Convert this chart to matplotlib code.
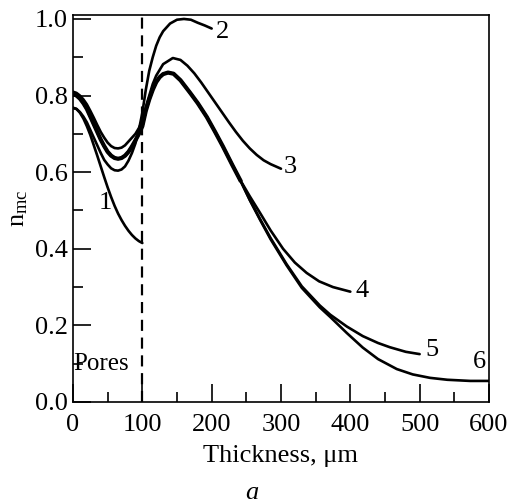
import matplotlib
matplotlib.use("Agg")
import matplotlib.pyplot as plt
from matplotlib.ticker import MultipleLocator

plt.rcParams['font.family'] = ['Liberation Serif', 'DejaVu Serif']
plt.rcParams['mathtext.default'] = 'regular'

# values (thickness in um, n_mc)
x1 = [0, 5, 10, 15, 20, 25, 30, 35, 40, 45, 50, 55, 60, 65, 70, 75, 80, 85, 90, 95, 100]
y1 = [0.768, 0.765, 0.755, 0.74, 0.72, 0.697, 0.67, 0.643, 0.615, 0.587, 0.56, 0.535, 0.512, 0.492,
      0.475, 0.46, 0.447, 0.436, 0.427, 0.42, 0.415]

x2 = [0, 5, 10, 15, 20, 25, 30, 35, 40, 45, 50, 55, 60, 65, 70, 75, 80, 85, 90, 95, 100,
      105, 110, 115, 120, 125, 130, 140, 150, 160, 170, 180, 190, 200]
y2 = [0.768, 0.765, 0.757, 0.745, 0.73, 0.71, 0.69, 0.67, 0.65, 0.632, 0.62, 0.61, 0.605, 0.604,
      0.607, 0.615, 0.63, 0.65, 0.675, 0.71, 0.755, 0.815, 0.865, 0.90, 0.93, 0.952, 0.968, 0.988,
      0.998, 1.0, 0.998, 0.99, 0.983, 0.975]

x3 = [0, 5, 10, 15, 20, 25, 30, 35, 40, 45, 50, 55, 60, 65, 70, 75, 80, 85, 90, 95, 100,
      105, 110, 115, 120, 130, 144, 155, 165, 175, 185, 195, 205, 215, 225, 235, 245, 255, 265,
      275, 285, 300]
y3 = [0.81, 0.807, 0.80, 0.79, 0.777, 0.76, 0.742, 0.723, 0.705, 0.69, 0.677, 0.668, 0.663, 0.662,
      0.664, 0.67, 0.68, 0.69, 0.70, 0.715, 0.735, 0.77, 0.80, 0.83, 0.852, 0.882, 0.898, 0.893,
      0.878, 0.858, 0.834, 0.808, 0.782, 0.756, 0.73, 0.705, 0.682, 0.662, 0.645, 0.631, 0.621,
      0.609]

# shared part of curves 4, 5 and 6
xb = [0, 5, 10, 15, 20, 25, 30, 35, 40, 45, 50, 55, 60, 65, 70, 75, 80, 85, 90, 95, 100,
      105, 110, 115, 120, 125, 130, 137, 145, 155, 169, 180, 193, 205, 216, 230, 241]
yb = [0.805, 0.80, 0.792, 0.78, 0.765, 0.745, 0.725, 0.705, 0.685, 0.668, 0.653, 0.643, 0.637,
      0.635, 0.637, 0.643, 0.653, 0.667, 0.683, 0.70, 0.72, 0.76, 0.79, 0.815, 0.835, 0.848, 0.856,
      0.86, 0.857, 0.84, 0.807, 0.78, 0.744, 0.705, 0.668, 0.618, 0.58]

x4 = xb + [255, 270, 285, 303, 320, 337, 355, 375, 400]
y4 = yb + [0.537, 0.493, 0.448, 0.4, 0.364, 0.337, 0.315, 0.30, 0.288]

x5 = xb + [255, 270, 285, 308, 330, 356, 371, 395, 418, 440, 457, 480, 500]
y5 = yb + [0.528, 0.477, 0.428, 0.36, 0.302, 0.252, 0.228, 0.197, 0.172, 0.154, 0.143, 0.131, 0.125]

x6 = xb + [255, 270, 285, 308, 330, 356, 371, 395, 418, 440, 467, 490, 515, 540, 573, 600]
y6 = yb + [0.527, 0.475, 0.425, 0.357, 0.298, 0.247, 0.222, 0.18, 0.142, 0.112, 0.086, 0.072,
           0.063, 0.058, 0.055, 0.055]

curves = [(x1, y1), (x2, y2), (x3, y3), (x4, y4), (x5, y5), (x6, y6)]
labels = ['1', '2', '3', '4', '5', '6']
label_pos = [(46, 0.52), (215, 0.966), (314, 0.613), (417, 0.29), (518, 0.136), (586, 0.104)]

fig = plt.figure(figsize=(5.12, 5.04), dpi=100)
ax = fig.add_axes([0.1426, 0.2024, 0.955 - 0.1426, 0.970 - 0.2024])

for (xs, ys) in curves:
    ax.plot(xs, ys, color='black', lw=1.9, solid_capstyle='round', solid_joinstyle='round')
# the bundle of 4-6 is drawn heavier in the original
ax.plot(xb, yb, color='black', lw=3.0, solid_joinstyle='round')

for lab, (lx, ly) in zip(labels, label_pos):
    ax.text(lx, ly, lab, fontsize=19, ha='center', va='center')

ax.axvline(100, color='black', lw=1.6, ls=(0, (5, 3)))
ax.text(1, 0.10, 'Pores', fontsize=18, ha='left', va='center')

ax.set_xlim(0, 600)
ax.set_ylim(0, 1.01)
ax.xaxis.set_major_locator(MultipleLocator(100))
ax.xaxis.set_minor_locator(MultipleLocator(50))
ax.yaxis.set_major_locator(MultipleLocator(0.2))
ax.yaxis.set_minor_locator(MultipleLocator(0.1))
ax.yaxis.set_major_formatter(plt.FuncFormatter(lambda v, p: f'{v:.1f}'))
ax.tick_params(which='both', direction='in', top=False, right=False, labelsize=19, width=1.2)
ax.tick_params(which='major', length=13)
ax.tick_params(which='minor', length=7)
ax.tick_params(axis='x', pad=9)
for s in ax.spines.values():
    s.set_linewidth(1.2)

ax.set_xlabel('Thickness, μm', fontsize=19, labelpad=6)
ax.set_ylabel(r'$n_{mc}$', fontsize=19, labelpad=4)
fig.text(0.492, 0.022, 'a', fontsize=19, style='italic', ha='center', va='center')

fig.savefig('out.png', dpi=100)
